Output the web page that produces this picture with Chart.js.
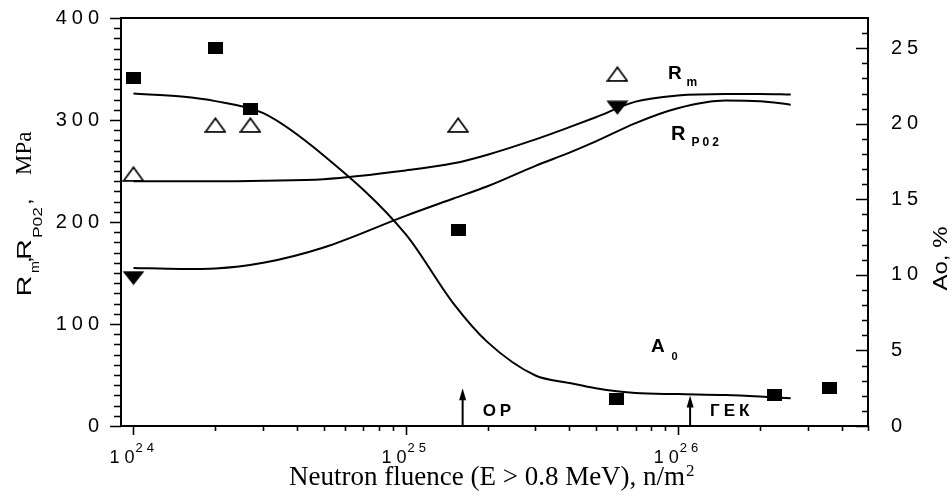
<!DOCTYPE html>
<html>
<head>
<meta charset="utf-8">
<script src="https://cdn.jsdelivr.net/npm/chart.js@4.4.0/dist/chart.umd.min.js"></script>
<style>
  body { margin: 0; background: #fff; }
  #wrap { width: 952px; height: 497px; position: relative; }
</style>
</head>
<body>
<div id="wrap"><canvas id="fluenceChart"></canvas></div>
<script>
// measured points
var sqFluence = [1e24, 2e24, 2.69e24, 1.56e25, 5.98e25, 2.27e26, 3.6e26];
var sqA0 = [23.0, 25.0, 21.0, 13.0, 1.77, 2.07, 2.54];
var rmFluence = [1e24, 2e24, 2.69e24, 1.56e25, 6e25];
var rmValues = [247, 295, 295, 295, 345];
var rpFluence = [1e24, 6e25];
var rpValues = [145, 312];

// fitted curves
var fitFluence = [1e24, 1.5e24, 2e24, 3e24, 5e24, 1e25, 1.5e25, 2e25, 3e25, 4e25, 5e25, 7e25, 1e26, 1.5e26, 2e26, 2.6e26];
var fitRm = [240, 240, 240, 240.5, 242, 250.5, 257.5, 266, 281, 293, 302.7, 318, 324, 325.5, 325.5, 325];
var fitRp = [155, 154, 154.5, 160, 175, 206, 223, 235, 255, 268, 279, 297, 311.5, 319, 318.5, 315];
var fitA0 = [22.0, 21.8, 21.5, 20.7, 17.9, 12.7, 8.1, 5.55, 3.34, 2.85, 2.5, 2.18, 2.11, 2.05, 1.95, 1.83];

// arrows on the fluence axis
var arrowFluence = [1.62e25, 1.11e26];
var arrowTip = [37, 30];
var arrowLabels = ['OP', 'ГЕК'];

var xTickExp = [24, 25, 26];

function pts(xs, ys) {
    return xs.map(function (x, i) { return { x: x, y: ys[i] }; });
}

function mark(w, h, draw) {
    var c = document.createElement('canvas');
    c.width = w; c.height = h;
    draw(c.getContext('2d'));
    return c;
}
var squareMark = mark(15, 12, function (g) { g.fillStyle = '#000'; g.fillRect(0, 0, 15, 12); });
var openTri = mark(22, 16, function (g) {
    g.strokeStyle = '#000'; g.lineWidth = 1.7;
    g.beginPath(); g.moveTo(11, 1.2); g.lineTo(20.8, 14.8); g.lineTo(1.2, 14.8); g.closePath(); g.stroke();
});
var downTri = mark(23, 15, function (g) {
    g.fillStyle = '#000';
    g.beginPath(); g.moveTo(0.5, 0.5); g.lineTo(22.5, 0.5); g.lineTo(11.5, 14.5); g.closePath(); g.fill();
});

function put(ctx, str, x, y, font, sx, spacing) {
    ctx.save();
    ctx.translate(x, y);
    ctx.scale(sx || 1, 1);
    ctx.font = font;
    ctx.letterSpacing = (spacing || 0) + 'px';
    ctx.textAlign = 'left';
    ctx.textBaseline = 'alphabetic';
    ctx.fillText(str, 0, 0);
    ctx.restore();
}

// fixed axis sizes, no label overhang padding
function fixSize(w, h) {
    return function (s) {
        if (w) s.width = w;
        if (h) s.height = h;
        s.paddingTop = 0; s.paddingBottom = 0; s.paddingLeft = 0; s.paddingRight = 0;
    };
}

var decor = {
    id: 'decor',
    beforeDraw: function (chart) {
        chart.ctx.letterSpacing = '5px';
    },
    afterDraw: function (chart) {
        var ctx = chart.ctx, a = chart.chartArea;
        var sx = chart.scales.x, sy = chart.scales.y, sy2 = chart.scales.y2;
        ctx.save();
        ctx.letterSpacing = '0px';
        ctx.strokeStyle = '#000';
        ctx.fillStyle = '#000';

        // top frame line
        ctx.lineWidth = 2;
        ctx.beginPath(); ctx.moveTo(a.left - 1, a.top); ctx.lineTo(a.right + 1, a.top); ctx.stroke();

        // tick marks
        ctx.lineWidth = 1.6;
        ctx.beginPath();
        for (var v = 0; v <= 400; v += 10) {
            var y = Math.round(sy.getPixelForValue(v)) + 0.5;
            var len = v % 100 === 0 ? 11 : 7;
            ctx.moveTo(a.left - len, y); ctx.lineTo(a.left, y);
        }
        for (var p = 0; p <= 26; p++) {
            var y2 = Math.round(sy2.getPixelForValue(p)) + 0.5;
            var len2 = p % 5 === 0 ? 12 : 6;
            ctx.moveTo(a.right - len2, y2); ctx.lineTo(a.right, y2);
        }
        for (var e = 23; e <= 26; e++) {
            for (var k = 1; k <= 9; k++) {
                var f = k * Math.pow(10, e);
                if (f <= sx.min * 1.001 || f > sx.max) continue;
                var x = Math.round(sx.getPixelForValue(f)) + 0.5;
                ctx.moveTo(x, a.bottom); ctx.lineTo(x, a.bottom + (k === 1 ? 9 : 5));
            }
        }
        ctx.stroke();

        // x tick labels 10^n
        xTickExp.forEach(function (n) {
            var px = sx.getPixelForValue(Math.pow(10, n));
            put(ctx, '10', px - 24, a.bottom + 37, '18px Arial, "Liberation Sans"', 1, 5);
            put(ctx, String(n), px + 2, a.bottom + 26, '13px Arial, "Liberation Sans"', 1, 4);
        });

        // x title
        var tf = '27px "Times New Roman", "Liberation Serif", serif';
        ctx.font = tf;
        var main = 'Neutron fluence (E > 0.8 MeV), n/m';
        put(ctx, main, 289, 485, tf);
        put(ctx, '2', 289 + ctx.measureText(main).width + 1, 476, '17px "Times New Roman", "Liberation Serif", serif');

        // left title (rotated)
        ctx.save();
        ctx.translate(31, 298);
        ctx.rotate(-Math.PI / 2);
        var af = function (s) { return s + 'px Arial, "Liberation Sans"'; };
        put(ctx, 'R', 1.5, 0, af(20), 1.45);
        put(ctx, 'm', 25, 8, af(12), 1.2);
        put(ctx, ',', 35, 0, af(20), 1.2);
        put(ctx, 'R', 38, 0, af(20), 1.45);
        put(ctx, 'P02', 60, 11, af(12), 1.45);
        put(ctx, ',', 93, 0, af(20), 1.2);
        put(ctx, 'MPa', 123, 0, '23px "Times New Roman", "Liberation Serif", serif');
        ctx.restore();

        // right title (rotated)
        ctx.save();
        ctx.translate(947, 258.5);
        ctx.rotate(-Math.PI / 2);
        ctx.font = af(20);
        var rw = ctx.measureText('Ao, %').width * 1.2;
        put(ctx, 'Ao, %', -rw / 2, 0, af(20), 1.2);
        ctx.restore();

        // curve labels
        var bf = function (s) { return 'bold ' + s + 'px Arial, "Liberation Sans"'; };
        var rx = sx.getPixelForValue(9.32e25), ry = sy.getPixelForValue(340);
        put(ctx, 'R', rx - 1.5, ry, bf(19));
        put(ctx, 'm', rx + 17, ry + 7, bf(12));
        var px2 = sx.getPixelForValue(9.56e25), py2 = sy.getPixelForValue(280);
        put(ctx, 'R', px2 - 1.5, py2, bf(20));
        put(ctx, 'P02', px2 + 19, py2 + 6, bf(12), 1, 3);
        var ax = sx.getPixelForValue(8.01e25), ay = sy.getPixelForValue(72.7);
        put(ctx, 'A', ax - 0.5, ay, bf(19));
        put(ctx, '0', ax + 20, ay + 8, bf(11));

        // arrows
        arrowFluence.forEach(function (fl, i) {
            var x = sx.getPixelForValue(fl), yt = sy.getPixelForValue(arrowTip[i]);
            ctx.lineWidth = 2;
            ctx.beginPath(); ctx.moveTo(x, a.bottom); ctx.lineTo(x, yt + 8); ctx.stroke();
            ctx.beginPath(); ctx.moveTo(x, yt); ctx.lineTo(x + 3.5, yt + 12); ctx.lineTo(x - 3.5, yt + 12); ctx.closePath(); ctx.fill();
            put(ctx, arrowLabels[i], x + 20, a.bottom - 10, bf(17), 1, 4);
        });

        ctx.restore();
    }
};

var lineBase = { borderColor: '#000', borderWidth: 2, pointRadius: 0, fill: false, cubicInterpolationMode: 'monotone' };
var ctx_fluence = document.getElementById('fluenceChart');
var fluenceChart = new Chart(ctx_fluence, {
    type: 'line',
    data: {
        datasets: [
            Object.assign({ label: 'A0 fit', data: pts(fitFluence, fitA0), yAxisID: 'y2' }, lineBase),
            Object.assign({ label: 'Rm fit', data: pts(fitFluence, fitRm), yAxisID: 'y' }, lineBase),
            Object.assign({ label: 'Rp02 fit', data: pts(fitFluence, fitRp), yAxisID: 'y' }, lineBase),
            { label: 'A0', data: pts(sqFluence, sqA0), yAxisID: 'y2', showLine: false, pointStyle: squareMark, pointRadius: 8 },
            { label: 'Rm', data: pts(rmFluence, rmValues), yAxisID: 'y', showLine: false, pointStyle: openTri, pointRadius: 8 },
            { label: 'Rp02', data: pts(rpFluence, rpValues), yAxisID: 'y', showLine: false, pointStyle: downTri, pointRadius: 8 }
        ]
    },
    options: {
        responsive: true,
        maintainAspectRatio: false,
        animation: false,
        layout: { autoPadding: false, padding: { top: 18, left: 0, right: 0, bottom: 0 } },
        plugins: { legend: { display: false }, tooltip: { enabled: false } },
        scales: {
            x: {
                type: 'logarithmic',
                position: 'bottom',
                min: 9e23,
                max: 5e26,
                grid: { display: false },
                border: { display: true, color: '#000', width: 2 },
                ticks: { display: false },
                afterFit: fixSize(0, 71)
            },
            y: {
                position: 'left',
                min: 0,
                max: 400,
                grid: { display: false },
                border: { display: true, color: '#000', width: 2 },
                ticks: { stepSize: 100, padding: 9, color: '#000', font: { family: 'Arial, "Liberation Sans"', size: 20 } },
                afterFit: fixSize(121, 0)
            },
            y2: {
                position: 'right',
                min: 0,
                max: 27,
                grid: { display: false },
                border: { display: true, color: '#000', width: 2 },
                ticks: {
                    stepSize: 5, padding: 15, color: '#000',
                    font: { family: 'Arial, "Liberation Sans"', size: 20 },
                    callback: function (v) { return v % 5 === 0 ? v : ''; }
                },
                afterFit: fixSize(84, 0)
            }
        }
    },
    plugins: [decor]
});
</script>
</body>
</html>
